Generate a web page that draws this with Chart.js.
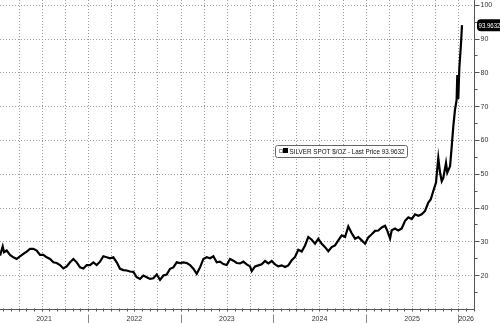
<!DOCTYPE html>
<html><head><meta charset="utf-8">
<script src="https://cdn.jsdelivr.net/npm/chart.js@4/dist/chart.umd.min.js"></script>
<style>html,body{margin:0;padding:0;background:#fff;overflow:hidden}#wrap{width:500px;height:323px;position:relative}</style>
</head><body><div id="wrap"><canvas id="c" width="500" height="323"></canvas></div>
<script>
// Dates as decimal years
const dates = [2021.050,2021.079,2021.093,2021.122,2021.158,2021.194,2021.230,2021.266,2021.302,2021.338,2021.374,2021.410,2021.446,2021.482,2021.518,2021.554,2021.590,2021.626,2021.662,2021.698,2021.734,2021.770,2021.806,2021.842,2021.878,2021.914,2021.950,2021.986,
2022.022,2022.058,2022.094,2022.130,2022.166,2022.202,2022.238,2022.274,2022.310,2022.346,2022.382,2022.418,2022.454,2022.490,2022.526,2022.562,2022.598,2022.634,2022.670,2022.706,2022.742,2022.778,2022.814,2022.850,2022.886,2022.922,2022.958,2022.994,
2023.030,2023.066,2023.102,2023.138,2023.174,2023.210,2023.246,2023.282,2023.318,2023.354,2023.390,2023.426,2023.462,2023.498,2023.534,2023.570,2023.606,2023.642,2023.678,2023.714,2023.750,2023.768,2023.804,2023.840,2023.876,2023.912,2023.948,2023.984,
2024.020,2024.055,2024.092,2024.128,2024.163,2024.200,2024.236,2024.271,2024.308,2024.344,2024.379,2024.416,2024.452,2024.487,2024.524,2024.560,2024.595,2024.632,2024.668,2024.703,2024.740,2024.776,2024.811,2024.848,2024.884,2024.919,2024.956,2024.992,
2025.027,2025.064,2025.100,2025.135,2025.172,2025.208,2025.232,2025.262,2025.280,2025.316,2025.351,2025.388,2025.424,2025.459,2025.496,2025.532,2025.567,2025.604,2025.640,2025.675,2025.701,2025.729,2025.758,2025.783,2025.802,2025.820,2025.837,2025.866,2025.880,2025.910,2025.928,2025.945,2025.963,2025.981,2025.988,2025.999,2026.010,2026.028,2026.039];
const prices = [25.8,28.5,26.8,27.3,26.0,25.3,24.8,25.6,26.3,27.0,27.8,27.8,27.3,26.0,26.0,25.3,24.8,23.8,23.6,23.0,22.0,22.6,23.8,24.8,23.8,22.3,22.0,23.0,
23.0,23.8,23.0,24.0,25.6,25.3,25.0,25.3,23.8,21.9,21.5,21.4,21.1,21.0,19.4,18.9,19.9,19.4,18.9,19.1,20.2,18.6,19.9,20.2,21.9,22.3,23.8,23.6,
23.8,23.6,23.0,21.9,20.4,22.3,24.8,25.3,25.0,25.6,23.8,24.0,23.3,23.0,24.8,24.3,23.6,23.5,24.0,23.2,22.6,21.2,22.6,22.9,23.2,24.2,23.5,24.2,
23.2,22.6,22.9,22.4,22.9,24.4,25.4,27.5,27.0,28.8,31.3,30.5,29.3,30.8,29.3,28.3,27.1,28.3,28.8,30.3,31.8,31.3,34.4,32.4,30.8,31.3,30.3,29.3,
31.2,32.1,33.1,33.2,34.1,34.6,33.2,30.9,33.3,33.8,33.2,33.8,36.1,37.1,36.6,38.0,37.6,38.0,39.0,41.5,42.4,44.9,47.4,54.7,50.3,47.8,48.8,53.2,50.3,52.2,58.1,64.0,68.9,71.9,79.2,72.1,81.2,88.5,93.9632];
const yearLabels = ['2021','2022','2023','2024','2025','2026'];
const yTickValues = [20,30,40,50,60,70,80,90,100];
const seriesName = 'SILVER SPOT $/OZ';
const lastPrice = 93.9632;

const X_MIN = 2021.0497, X_MAX = 2026.1685, Y_MIN = 10, Y_MAX = 101.4;
const FONT = '"Liberation Sans Narrow","Liberation Sans",Arial,sans-serif';

const deco = {
  id: 'deco',
  beforeDatasetsDraw(chart) {
    const {ctx, chartArea: a, scales: {x, y}} = chart;
    ctx.save();
    ctx.strokeStyle = '#9c9c9c';
    ctx.lineWidth = 1;
    ctx.setLineDash([1, 2]);
    yTickValues.forEach(v => {
      const py = Math.round(y.getPixelForValue(v)) + 0.5;
      ctx.beginPath(); ctx.moveTo(a.left, py); ctx.lineTo(a.right, py); ctx.stroke();
    });
    for (let q = 2021.25; q <= X_MAX; q += 0.25) {
      const px = Math.round(x.getPixelForValue(q)) + 0.5;
      ctx.beginPath(); ctx.moveTo(px, a.top); ctx.lineTo(px, a.bottom); ctx.stroke();
    }
    ctx.restore();
  },
  afterDatasetsDraw(chart) {
    const {ctx, chartArea: a, scales: {x, y}} = chart;
    ctx.save();
    // axes
    ctx.strokeStyle = '#555'; ctx.lineWidth = 1;
    const rx = Math.round(a.right) + 0.5, by = Math.round(a.bottom) + 0.5;
    ctx.beginPath(); ctx.moveTo(rx, a.top); ctx.lineTo(rx, by); ctx.lineTo(a.left, by); ctx.stroke();
    // y ticks
    for (let v = 15; v <= 100; v += 5) {
      const py = Math.round(y.getPixelForValue(v)) + 0.5;
      const major = v % 10 === 0;
      ctx.beginPath(); ctx.moveTo(rx, py); ctx.lineTo(rx + (major ? 5 : 3), py); ctx.stroke();
    }
    ctx.fillStyle = '#333';
    ctx.font = '7px ' + FONT;
    ctx.textBaseline = 'middle'; ctx.textAlign = 'left';
    yTickValues.forEach(v => {
      ctx.fillText(String(v), rx + 6, y.getPixelForValue(v) + 0.5);
    });
    // month ticks on x axis
    ctx.strokeStyle = '#555';
    for (let yr = 2021; yr <= 2026; yr++) {
      for (let m = 0; m < 12; m++) {
        const v = yr + m / 12;
        if (v < X_MIN || v > X_MAX) continue;
        const px = Math.round(x.getPixelForValue(v)) + 0.5;
        ctx.beginPath(); ctx.moveTo(px, by - 1); ctx.lineTo(px, by + 2); ctx.stroke();
      }
    }
    // year separators and labels
    ctx.strokeStyle = '#888';
    for (let yr = 2022; yr <= 2026; yr++) {
      const px = Math.round(x.getPixelForValue(yr)) + 0.5;
      ctx.beginPath(); ctx.moveTo(px, by + 5); ctx.lineTo(px, chart.height); ctx.stroke();
    }
    ctx.fillStyle = '#333';
    ctx.textAlign = 'center'; ctx.textBaseline = 'middle';
    yearLabels.forEach(lbl => {
      const yr = +lbl;
      const l = Math.max(x.getPixelForValue(yr), a.left);
      const r = Math.min(x.getPixelForValue(yr + 1), a.right);
      ctx.fillText(lbl, (l + r) / 2, by + 10);
    });
    // legend box
    const lx = 275.5, ly = 145.5, lw = 132, lh = 12;
    ctx.beginPath(); ctx.roundRect(lx, ly, lw, lh, 2);
    ctx.fillStyle = '#fff'; ctx.fill();
    ctx.strokeStyle = '#666'; ctx.stroke();
    ctx.strokeStyle = '#999';
    ctx.strokeRect(279.5, 149.5, 3, 3);
    ctx.fillStyle = '#000';
    ctx.fillRect(283, 148, 5, 5);
    ctx.fillStyle = '#111';
    ctx.textAlign = 'left'; ctx.textBaseline = 'middle';
    ctx.font = '7.5px ' + FONT;
    ctx.fillText(seriesName + ' - Last Price ' + lastPrice.toFixed(4), 289.5, ly + lh / 2 + 0.5, 115);
    // last price tag
    const ty = y.getPixelForValue(lastPrice);
    ctx.beginPath(); ctx.roundRect(477, ty - 6, 30, 12, 4);
    ctx.fillStyle = '#000'; ctx.fill();
    ctx.fillStyle = '#fff';
    ctx.font = '7px ' + FONT;
    ctx.fillText(lastPrice.toFixed(4), 478.5, ty + 0.5, 22);
    ctx.restore();
  }
};

new Chart(document.getElementById('c'), {
  type: 'line',
  data: { datasets: [{
    data: dates.map((d, i) => ({x: d, y: prices[i]})),
    borderColor: '#000', borderWidth: 2.2, pointRadius: 0, tension: 0, fill: false
  }]},
  options: {
    responsive: false, animation: false, events: [],
    layout: { padding: { left: 0, top: 0, right: 26, bottom: 14 } },
    plugins: { legend: { display: false }, tooltip: { enabled: false } },
    scales: {
      x: { type: 'linear', min: X_MIN, max: X_MAX, display: false },
      y: { type: 'linear', min: Y_MIN, max: Y_MAX, display: false, position: 'right' }
    }
  },
  plugins: [deco]
});
</script>
</body></html>
